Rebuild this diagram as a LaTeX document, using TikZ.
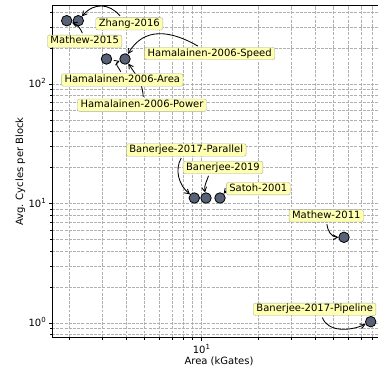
\documentclass[tikz,border=0pt]{standalone}
\usepackage{fontspec}
\setmainfont{DejaVu Sans}
\usetikzlibrary{arrows.meta}
\definecolor{gridgray}{RGB}{176,176,176}
\definecolor{lblfill}{RGB}{255,255,178}
\definecolor{lbledge}{RGB}{175,175,160}
\definecolor{ptfill}{RGB}{88,98,118}
\newcommand{\tenpow}[1]{10\raisebox{4bp}{\fontsize{7bp}{7bp}\selectfont #1}}
\begin{document}
\begin{tikzpicture}[x=1bp,y=1bp,
  font=\fontsize{10bp}{12bp}\selectfont,
  gridline/.style={draw=gridgray, dash pattern=on 2.9bp off 1.3bp, line width=0.8bp},
  lbl/.style={draw=lbledge, fill=lblfill, rounded corners=2bp, inner xsep=3bp, inner ysep=1.2bp, text height=7.6bp, text depth=2.4bp},
  pt/.style={circle, draw=black, line width=0.8bp, fill=ptfill, minimum size=10.5bp, inner sep=0pt},
  arr/.style={-{Straight Barb[length=4.5bp,width=5bp]}, line width=0.85bp, shorten <=2bp},
  axline/.style={line width=0.9bp, draw=black},
  tk/.style={line width=0.8bp},
]
\useasboundingbox (0,0) rectangle (378,368);
% grid
\begin{scope}
\clip (52,30.3) rectangle (378,362.3);
\foreach \v in {2,3,4,5,6,7,8,9,10,20,30,40,50,60,70,80,90} {
  \pgfmathsetmacro{\xx}{201.4+189.5*ln(\v/10)/ln(10)}
  \draw[gridline] (\xx,30.3) -- (\xx,362.3);
}
\foreach \v in {0.8,0.9,1,2,3,4,5,6,7,8,9,10,20,30,40,50,60,70,80,90,100,200,300,400} {
  \pgfmathsetmacro{\yy}{45+119.5*ln(\v)/ln(10)}
  \draw[gridline] (52,\yy) -- (378,\yy);
}
\end{scope}
% spines
\coordinate (o) at (52,30.3);
\coordinate (tl) at (52,362.3);
\coordinate (br) at (378,30.3);
\coordinate (tr) at (378,362.3);
\draw[axline] (br) -- (o) -- (tl) -- (tr);
% ticks
\foreach \v in {2,3,4,5,6,7,8,9,20,30,40,50,60,70,80} {
  \pgfmathsetmacro{\xx}{201.4+189.5*ln(\v/10)/ln(10)}
  \draw[tk] (\xx,30.3) -- (\xx,28.3);
}
\draw[tk] (201.4,30.3) -- (201.4,26.8);
\foreach \v in {0.8,0.9,2,3,4,5,6,7,8,9,20,30,40,50,60,70,80,90,200,300,400} {
  \pgfmathsetmacro{\yy}{45+119.5*ln(\v)/ln(10)}
  \draw[tk] (52,\yy) -- (50,\yy);
}
\foreach \yy in {45,164.5,284} { \draw[tk] (52,\yy) -- (48.5,\yy); }
% tick labels
\node[anchor=base east, inner sep=0pt] (y0) at (46,41.4) {\tenpow{0}};
\node[anchor=base east, inner sep=0pt] (y1) at (46,160.9) {\tenpow{1}};
\node[anchor=base east, inner sep=0pt] (y2) at (46,280.4) {\tenpow{2}};
\node[anchor=base, inner sep=0pt] (x1) at (201.4,14.7) {\tenpow{1}};
\node[anchor=base, inner sep=0pt] (xlab) at (219,3.5) {Area (kGates)};
\node[anchor=base, rotate=90, inner sep=0pt] (ylab) at (23,196.3) {Avg. Cycles per Block};
% data points
\node[pt] (m15) at (66.7,347.3) {};
\node[pt] (z16) at (78.3,347.3) {};
\node[pt] (hA) at (106.5,309) {};
\node[pt] (hS) at (125,309) {};
\node[pt] (b17p) at (194.3,170) {};
\node[pt] (b19) at (206,170) {};
\node[pt] (sat) at (220,170) {};
\node[pt] (m11) at (344,130.7) {};
\node[pt] (pipe) at (370.7,46.3) {};
% label positions (boxes drawn on top of arrows below)
\path
  (129.3,344.2) coordinate (cz)
  (84.7,326.7) coordinate (cm15)
  (209.7,314.5) coordinate (cspeed)
  (142,262.8) coordinate (cpower)
  (122.3,288) coordinate (carea)
  (186.2,218) coordinate (cpar)
  (223,200.5) coordinate (cb19)
  (258.3,179.3) coordinate (csat)
  (326.3,152.2) coordinate (cm11)
  (314.7,58.7) coordinate (cpipe);
\begin{scope}[opacity=0]
\node[lbl] (lz) at (cz) {Zhang-2016};
\node[lbl] (lm15) at (cm15) {Mathew-2015};
\node[lbl] (lspeed) at (cspeed) {Hamalainen-2006-Speed};
\node[lbl] (lpower) at (cpower) {Hamalainen-2006-Power};
\node[lbl] (larea) at (carea) {Hamalainen-2006-Area};
\node[lbl] (lpar) at (cpar) {Banerjee-2017-Parallel};
\node[lbl] (lb19) at (cb19) {Banerjee-2019};
\node[lbl] (lsat) at (csat) {Satoh-2001};
\node[lbl] (lm11) at (cm11) {Mathew-2011};
\node[lbl] (lpipe) at (cpipe) {Banerjee-2017-Pipeline};
\end{scope}
% arrows
\draw[arr] ([xshift=-8bp]lz.north) to[out=130,in=50,looseness=1.2] (z16);
\draw[arr] ([xshift=-1.5bp]lm15.north) to[out=115,in=-20] (m15);
\draw[arr] ([xshift=-10bp]lspeed.north) to[out=150,in=60,looseness=1.15] (hS);
\draw[arr] ([xshift=1.3bp]lpower.north) to[out=92,in=-55] (hS);
\draw[arr] ([xshift=-0.6bp]larea.north) to[out=115,in=200,looseness=1.3] (hS);
\draw[arr] ([xshift=-4bp]lpar.south) to[out=240,in=140] (b17p);
\draw[arr] ([xshift=-14bp]lb19.south) to[out=255,in=100] (b19);
\draw[arr, shorten <=0pt] ([yshift=-2bp]lsat.west) to (sat);
\draw[arr] ([xshift=0.4bp]lm11.south) to[out=275,in=180] (m11);
\draw[arr] ([xshift=7bp]lpipe.south) to[out=290,in=205] (pipe);
% visible label boxes
\node[lbl] (vz) at (cz) {Zhang-2016};
\node[lbl] (vm15) at (cm15) {Mathew-2015};
\node[lbl] (vspeed) at (cspeed) {Hamalainen-2006-Speed};
\node[lbl] (vpower) at (cpower) {Hamalainen-2006-Power};
\node[lbl] (varea) at (carea) {Hamalainen-2006-Area};
\node[lbl] (vpar) at (cpar) {Banerjee-2017-Parallel};
\node[lbl] (vb19) at (cb19) {Banerjee-2019};
\node[lbl] (vsat) at (csat) {Satoh-2001};
\node[lbl] (vm11) at (cm11) {Mathew-2011};
\node[lbl] (vpipe) at (cpipe) {Banerjee-2017-Pipeline};
\end{tikzpicture}
\end{document}
